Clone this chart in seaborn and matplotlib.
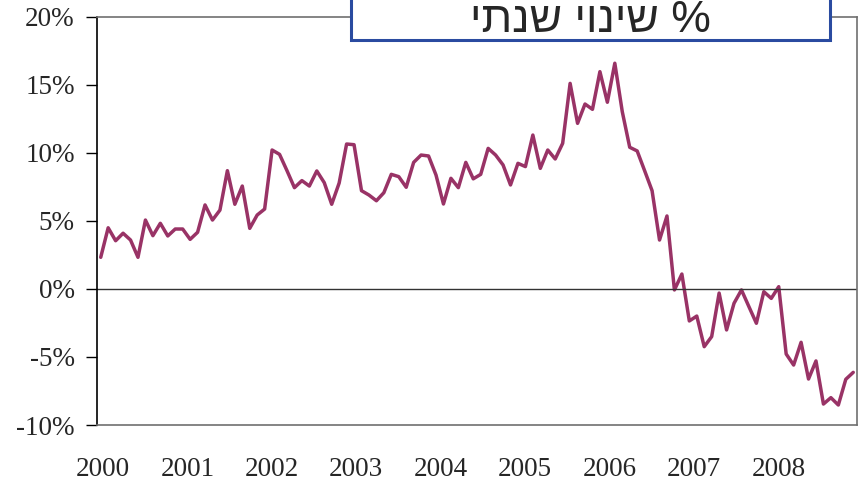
import numpy as np
import pandas as pd
import matplotlib
matplotlib.use("Agg")
import matplotlib.pyplot as plt
import matplotlib.patches as mpatches
from matplotlib.ticker import FuncFormatter
import seaborn as sns

# annual change (%), monthly readings
change_pct = [
    2.33, 4.5, 3.55, 4.1, 3.6, 2.33, 5.07, 3.92, 4.83, 3.9, 4.41, 4.41,
    3.65, 4.17, 6.18, 5.07, 5.8, 8.7, 6.23, 7.57, 4.46, 5.44, 5.88, 10.22,
    9.9, 8.7, 7.45, 7.97, 7.57, 8.68, 7.82, 6.23, 7.79, 10.66, 10.61, 7.23,
    6.91, 6.49, 7.08, 8.43, 8.26, 7.48, 9.31, 9.85, 9.78, 8.38, 6.25, 8.14,
    7.45, 9.31, 8.1, 8.43, 10.34, 9.85, 9.12, 7.65, 9.24, 9.0, 11.32, 8.87,
    10.22, 9.56, 10.71, 15.12, 12.18, 13.6, 13.21, 15.98, 13.73, 16.6, 13.04, 10.42,
    10.15, 8.7, 7.23, 3.6, 5.37, -0.07, 1.1, -2.35, -1.99, -4.24, -3.5, -0.3,
    -3.01, -1.05, -0.07, -1.3, -2.52, -0.2, -0.69, 0.17, -4.78, -5.59, -3.92, -6.62,
    -5.29, -8.46, -7.99, -8.53, -6.64, -6.13,
]
years = ["2000", "2001", "2002", "2003", "2004", "2005", "2006", "2007", "2008"]
title = "% שינוי שנתי"

df = pd.DataFrame({"t": np.arange(len(change_pct)), "change": change_pct})

sns.set_style("white")
plt.rcParams["font.family"] = ["Liberation Serif", "DejaVu Serif"]
plt.rcParams["axes.unicode_minus"] = False

fig = plt.figure(figsize=(8.63, 4.84), dpi=100)
ax = fig.add_axes([0.1124, 0.1219, 0.8806, 0.843])

sns.lineplot(data=df, x="t", y="change", color="#993366", linewidth=2.5, ax=ax)
ax.axhline(0, color="#333333", linewidth=1.0)

ax.set_ylim(-10, 20)
ax.set_yticks(np.arange(-10, 21, 5))
ax.yaxis.set_major_formatter(FuncFormatter(lambda v, p: f"{v:.0f}%"))
ax.set_xlim(-0.5, 101.5)
step = len(change_pct) / len(years)
ax.set_xticks(np.arange(len(years)) * step + 0.3)
ax.set_xticklabels(years)
ax.set_xlabel("")
ax.set_ylabel("")

ax.tick_params(axis="y", direction="out", length=8, width=1, color="black",
               pad=8, labelsize=19.5, left=True)
ax.tick_params(axis="x", length=0, pad=23, labelsize=19.5)

for side in ["top", "right", "bottom"]:
    ax.spines[side].set_color("#707070")
    ax.spines[side].set_linewidth(1.2)
ax.spines["left"].set_color("black")
ax.spines["left"].set_linewidth(1.2)

# title box, running off the top of the figure
W, H = 863, 484
box = mpatches.Rectangle((351 / W, 1 - 40 / H), (830 - 351) / W, 60 / H,
                         transform=fig.transFigure, facecolor="white",
                         edgecolor="#2A4BA0", linewidth=2.2, zorder=5)
fig.patches.append(box)
fig.text(590 / W, 1 - 21 / H, title[::-1], ha="center", va="center",
         fontsize=32, family=["Liberation Sans", "DejaVu Sans"], zorder=6)

fig.savefig("out.png", dpi=100)
